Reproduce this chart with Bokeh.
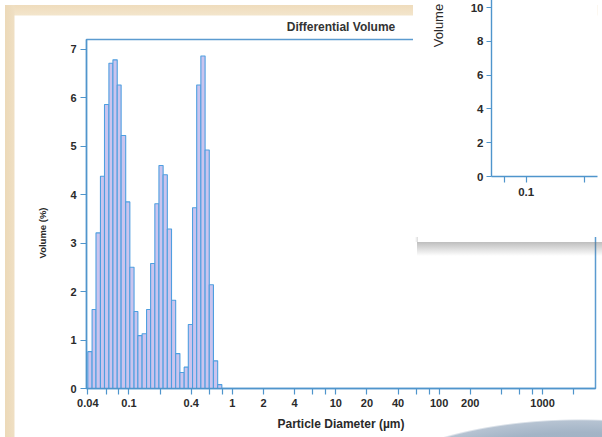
import math
from bokeh.plotting import figure
from bokeh.models import FixedTicker, Range1d, Div, Title
from bokeh.layouts import column
from bokeh.embed import file_html
from bokeh.resources import INLINE

# ---------------- data ----------------
channel_edges_um = [0.040, 0.044, 0.048, 0.053, 0.058, 0.064, 0.070, 0.077, 0.084, 0.093,
                    0.102, 0.112, 0.122, 0.134, 0.148, 0.162, 0.178, 0.195, 0.214, 0.235,
                    0.258, 0.283, 0.311, 0.342, 0.375, 0.412, 0.452, 0.496, 0.545, 0.598,
                    0.656, 0.721, 0.791]
volume_pct = [0.76, 1.63, 3.21, 4.38, 5.86, 6.71, 6.78, 6.26, 5.22, 3.85,
              2.50, 1.59, 1.09, 1.13, 1.63, 2.58, 3.81, 4.60, 4.41, 3.29,
              1.82, 0.72, 0.33, 0.44, 1.32, 3.73, 6.26, 6.86, 4.92, 2.14,
              0.57, 0.08]
x_ticks = [0.04, 0.06, 0.08, 0.1, 0.2, 0.4, 0.6, 0.8, 1, 2, 4, 6, 8, 10, 20, 40, 60, 80,
           100, 200, 400, 600, 800, 1000, 2000]
x_tick_labels = ["0.04", "", "", "0.1", "", "0.4", "", "", "1", "2", "4", "", "", "10", "20",
                 "40", "", "", "100", "200", "", "", "", "1000", ""]
y_ticks = [0, 1, 2, 3, 4, 5, 6, 7]

inset_x_ticks = [0.06, 0.1, 0.4]
inset_x_tick_labels = ["", "0.1", ""]
inset_y_ticks = [0, 2, 4, 6, 8, 10]

# ---------------- styles ----------------
FONT = "Liberation Sans"
AXIS_BLUE = "#4f95cc"
TEXT = "#2a2a2a"


def style_axis(ax, size="11px"):
    ax.axis_line_color = AXIS_BLUE
    ax.axis_line_width = 1.4
    ax.major_tick_line_color = AXIS_BLUE
    ax.major_tick_line_width = 1.2
    ax.major_tick_in = 0
    ax.minor_tick_line_color = None
    ax.major_label_text_font = FONT
    ax.major_label_text_font_size = size
    ax.major_label_text_font_style = "bold"
    ax.major_label_text_color = TEXT
    ax.axis_label_text_font = FONT
    ax.axis_label_text_font_style = "bold"
    ax.axis_label_text_color = TEXT


# ---------------- main chart ----------------
p = figure(width=600, height=436, x_axis_type="log",
           x_range=Range1d(0.03885, 3251), y_range=Range1d(0, 7.2),
           output_backend="svg", toolbar_location=None,
           min_border_left=86, min_border_right=5, min_border_top=39, min_border_bottom=48,
           title="Differential Volume")
p.border_fill_alpha = 0
p.background_fill_color = "white"
p.outline_line_color = "#5b9bd0"
p.outline_line_width = 1.5
p.xgrid.visible = False
p.ygrid.visible = False

p.title.align = "center"
p.title.text_font = FONT
p.title.text_font_size = "12px"
p.title.text_font_style = "bold"
p.title.text_color = "#333333"
p.title.standoff = 12

p.quad(left=channel_edges_um[:-1], right=channel_edges_um[1:], bottom=0, top=volume_pct,
       fill_color="#cac4ee", line_color="#4f9fe0", line_width=1.1)

style_axis(p.xaxis[0])
style_axis(p.yaxis[0])
p.xaxis.ticker = FixedTicker(ticks=x_ticks)
p.xaxis.major_label_overrides = {t: lab for t, lab in zip(x_ticks, x_tick_labels)}
p.xaxis.major_tick_out = 6
p.xaxis.major_label_standoff = 4
p.xaxis.axis_label = "Particle Diameter (\u00b5m)"
p.xaxis.axis_label_text_font_size = "12px"
p.xaxis.axis_label_standoff = 7

p.yaxis.ticker = FixedTicker(ticks=y_ticks)
p.yaxis.major_tick_out = 6
p.yaxis.major_label_standoff = 4
p.add_layout(Title(text="Volume (%)", align="left", offset=130, standoff=39,
                   text_font=FONT, text_font_size="9.5px", text_font_style="bold",
                   text_color=TEXT), "left")

# ---------------- inset window (partially visible, extends above the page) ----------------
p2 = figure(width=197, height=363, x_axis_type="log",
            x_range=Range1d(0.044, 0.541), y_range=Range1d(0, 17.87),
            output_backend="svg", toolbar_location=None,
            min_border_left=79, min_border_right=0, min_border_top=0, min_border_bottom=61)
p2.outline_line_color = None
p2.background_fill_color = "white"
p2.border_fill_color = "white"
p2.xgrid.visible = False
p2.ygrid.visible = False
style_axis(p2.xaxis[0], "11.5px")
style_axis(p2.yaxis[0], "11.5px")
p2.xaxis.ticker = FixedTicker(ticks=inset_x_ticks)
p2.xaxis.major_label_overrides = {t: lab for t, lab in zip(inset_x_ticks, inset_x_tick_labels)}
p2.xaxis.major_tick_out = 6
p2.xaxis.major_label_standoff = 5
p2.yaxis.ticker = FixedTicker(ticks=inset_y_ticks)
p2.yaxis.major_tick_out = 5
p2.yaxis.major_label_standoff = 3
p2.yaxis.axis_label = "Volume"
p2.yaxis.axis_label_text_font_size = "13px"
p2.yaxis.axis_label_text_font_style = "normal"
p2.yaxis.axis_label_standoff = 22
p2.styles = {"position": "absolute", "left": "405px", "top": "-126px", "z-index": "5",
             "clip-path": "inset(0px 0px 0px 8px)"}

# shadow under / beside the inset window
shadow = Div(text="", styles={
    "position": "absolute", "left": "412px", "top": "237px", "width": "190px", "height": "14px",
    "z-index": "4",
    "background": "linear-gradient(to bottom, rgba(110,110,110,0.45), rgba(150,150,150,0.0))"})
edge = Div(text="", styles={
    "position": "absolute", "left": "410px", "top": "0px", "width": "3px", "height": "237px",
    "z-index": "4",
    "background": "linear-gradient(to right, rgba(160,160,160,0.0), rgba(150,150,150,0.35))"})

# ---------------- photo background ----------------
bg = Div(text="", styles={
    "position": "absolute", "left": "0px", "top": "0px", "width": "602px", "height": "437px",
    "z-index": "-1",
    "background": ("radial-gradient(230px 90px at 575px 504px, #8ea2b8 0%, #a3b4c6 85%, "
                   "#b6c3d2 98%, rgba(255,255,255,0) 100%), "
                   "linear-gradient(to right, #ecd9b8 0px, #efdfc3 9px, rgba(255,255,255,0) 10px), "
                   "linear-gradient(to bottom, #efdcbc 0px, #f3e5cb 10px, #ffffff 11px)")})

root = column(bg, p, p2, shadow, edge)
open("out.html", "w").write(file_html(root, INLINE))
